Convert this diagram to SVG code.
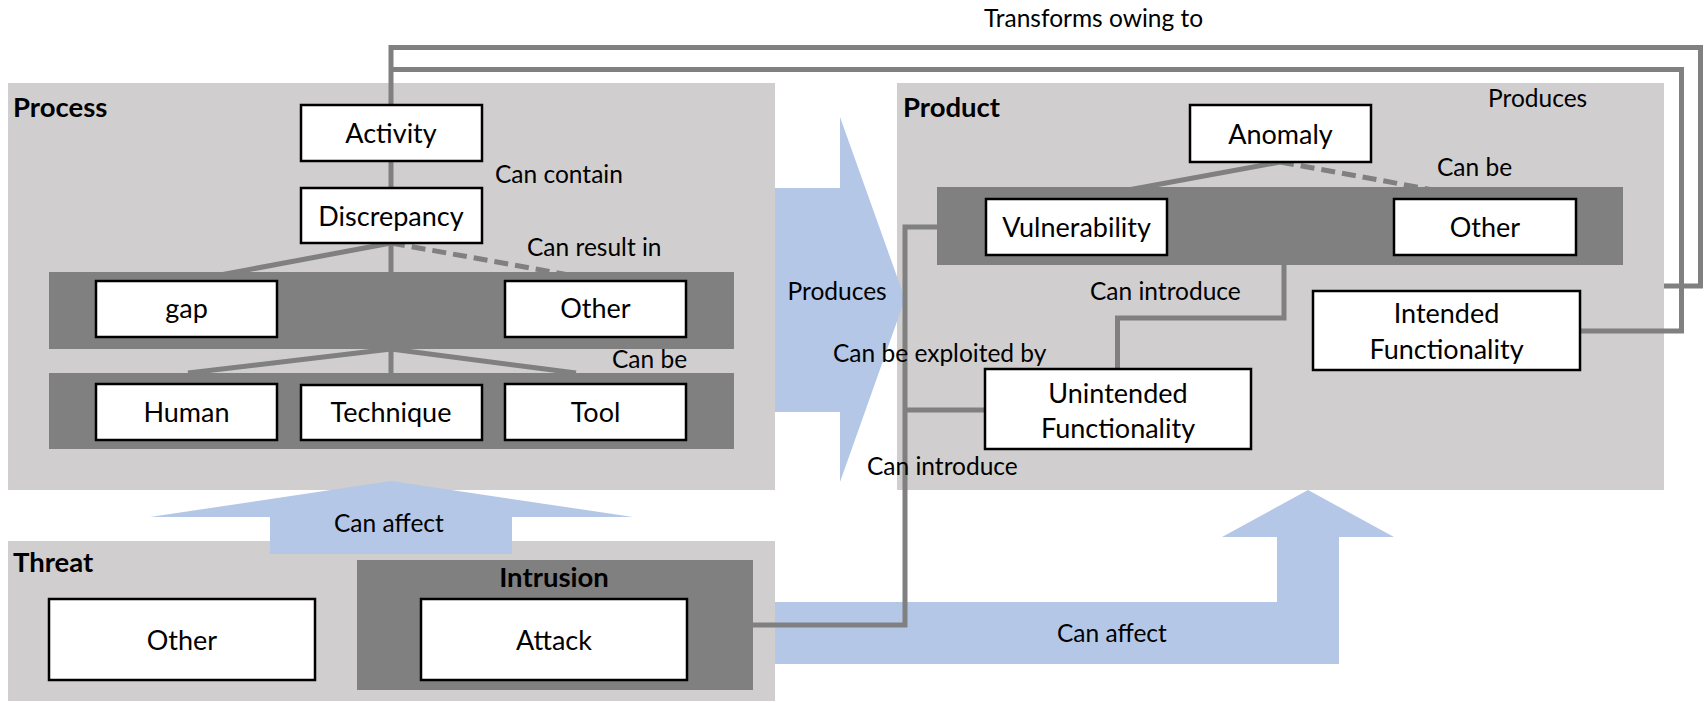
<svg xmlns="http://www.w3.org/2000/svg" width="1706" height="703" viewBox="0 0 1706 703">
<style>
.cont{fill:#D0CECE}
.band{fill:#808080}
.arrow{fill:#B4C7E7}
.box{fill:#fff;stroke:#000;stroke-width:2.5}
.ln{fill:none;stroke:#808080;stroke-width:5}
.dash{stroke-dasharray:14 7}
text{font-family:Lato,"Liberation Sans",sans-serif;fill:#000}
.t{font-size:27px;text-anchor:middle}
.l{font-size:24.5px}
.h{font-size:27.5px;font-weight:bold}
</style>
<rect width="1706" height="703" fill="#fff"/>
<g id="containers">
<rect id="process" class="cont" x="8" y="83" width="767" height="407"/>
<rect id="product" class="cont" x="897" y="83" width="767" height="407"/>
<rect id="threat" class="cont" x="8" y="541" width="767" height="160"/>
</g>
<g id="arrows">
<polygon id="arrow-produces" class="arrow" points="775,188 840,188 840,117 905,299 840,482 840,412 775,412"/>
<polygon id="arrow-affect-process" class="arrow" points="270,554 270,517 150,517 391,481 633,517 512,517 512,554"/>
<polygon id="arrow-affect-product" class="arrow" points="775,602 1277,602 1277,537 1222,537 1308,490 1394,537 1339,537 1339,664 775,664"/>
</g>
<g id="bands">
<rect id="band-gap" class="band" x="49" y="272" width="685" height="77"/>
<rect id="band-human" class="band" x="49" y="373" width="685" height="76"/>
<rect id="band-vuln" class="band" x="937" y="187" width="686" height="78"/>
<rect id="intrusion" class="band" x="357" y="560" width="396" height="130"/>
</g>
<g id="connectors">
<polyline class="ln" points="391,105 391,47.5 1700.5,47.5 1700.5,286 1664,286"/>
<polyline class="ln" points="391,69.5 1681.5,69.5 1681.5,331 1580,331"/>
<line class="ln" x1="391" y1="161" x2="391" y2="188"/>
<line class="ln" x1="391" y1="243" x2="188" y2="281"/>
<line class="ln" x1="391" y1="243" x2="391" y2="272"/>
<line class="ln dash" x1="391" y1="243" x2="603" y2="281"/>
<line class="ln" x1="391" y1="349" x2="188" y2="373"/>
<line class="ln" x1="391" y1="349" x2="391" y2="373"/>
<line class="ln" x1="391" y1="349" x2="576" y2="373"/>
<line class="ln" x1="1280" y1="162" x2="1079" y2="199"/>
<line class="ln dash" x1="1280" y1="162" x2="1483" y2="199"/>
<polyline class="ln" points="1284,265 1284,318 1117.5,318 1117.5,369"/>
<polyline class="ln" points="687,625 905,625 905,227 937,227"/>
<line class="ln" x1="905" y1="410" x2="985" y2="410"/>
</g>
<g id="n-activity"><rect class="box" x="301" y="105" width="181" height="56"/><text class="t" x="391" y="143">Activity</text></g>
<g id="n-discrepancy"><rect class="box" x="301" y="188" width="181" height="55"/><text class="t" x="391" y="225.5">Discrepancy</text></g>
<g id="n-gap"><rect class="box" x="96" y="281" width="181" height="56"/><text class="t" x="186.5" y="318">gap</text></g>
<g id="n-other-process"><rect class="box" x="505" y="281" width="181" height="56"/><text class="t" x="595.5" y="318">Other</text></g>
<g id="n-human"><rect class="box" x="96" y="384" width="181" height="56"/><text class="t" x="186.5" y="421.5">Human</text></g>
<g id="n-technique"><rect class="box" x="301" y="385" width="181" height="55"/><text class="t" x="391" y="421.5">Technique</text></g>
<g id="n-tool"><rect class="box" x="505" y="384" width="181" height="56"/><text class="t" x="595.5" y="421.5">Tool</text></g>
<g id="n-anomaly"><rect class="box" x="1190" y="105" width="181" height="57"/><text class="t" x="1280.5" y="143.5">Anomaly</text></g>
<g id="n-vulnerability"><rect class="box" x="986" y="199" width="181" height="56"/><text class="t" x="1076.5" y="237">Vulnerability</text></g>
<g id="n-other-product"><rect class="box" x="1394" y="199" width="182" height="56"/><text class="t" x="1485" y="237">Other</text></g>
<g id="n-intended"><rect class="box" x="1313" y="291" width="267" height="79"/><text class="t" x="1446.5" y="322.5">Intended</text><text class="t" x="1446.5" y="358.5">Functionality</text></g>
<g id="n-unintended"><rect class="box" x="985" y="369" width="266" height="80"/><text class="t" x="1118" y="402.5">Unintended</text><text class="t" x="1118" y="437.5">Functionality</text></g>
<g id="n-other-threat"><rect class="box" x="49" y="599" width="266" height="81"/><text class="t" x="182" y="649.5">Other</text></g>
<g id="n-attack"><rect class="box" x="421" y="599" width="266" height="81"/><text class="t" x="554" y="649.5">Attack</text></g>
<g id="titles">
<text class="h" x="13" y="117">Process</text>
<text class="h" x="903" y="117">Product</text>
<text class="h" x="13" y="572">Threat</text>
<text class="h" x="554" y="587" text-anchor="middle">Intrusion</text>
</g>
<g id="labels">
<text class="l" x="984" y="27">Transforms owing to</text>
<text class="l" x="1488" y="107">Produces</text>
<text class="l" x="495" y="183">Can contain</text>
<text class="l" x="527" y="256">Can result in</text>
<text class="l" x="612" y="368">Can be</text>
<text class="l" x="1437" y="176">Can be</text>
<text class="l" x="787.5" y="300">Produces</text>
<text class="l" x="1090" y="300">Can introduce</text>
<text class="l" x="833" y="362">Can be exploited by</text>
<text class="l" x="867" y="475">Can introduce</text>
<text class="l" x="334" y="532">Can affect</text>
<text class="l" x="1057" y="642">Can affect</text>
</g>
</svg>
